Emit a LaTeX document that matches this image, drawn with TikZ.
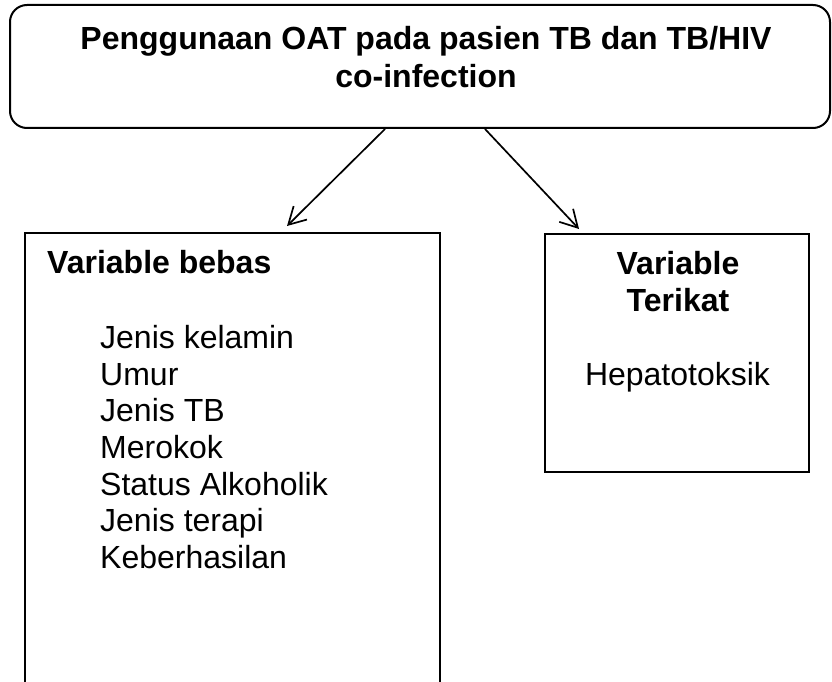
\documentclass[tikz,border=0pt]{standalone}
\usepackage{fontspec}
\setmainfont{Liberation Sans}
\usetikzlibrary{arrows.meta,positioning}

\begin{document}
\begin{tikzpicture}[x=1pt,y=1pt]

\tikzset{
  titlebox/.style={draw=black, line width=2pt, rounded corners=17pt,
                  minimum width=820pt, minimum height=123pt, inner sep=0pt},
  varbox/.style={draw=black, line width=2pt, inner sep=0pt},
  titletext/.style={font=\fontsize{32}{37.5}\selectfont\bfseries, inner sep=0pt},
  headtext/.style={font=\fontsize{32}{36.7}\selectfont\bfseries, inner sep=0pt},
  bodytext/.style={font=\fontsize{32}{36.7}\selectfont, inner sep=0pt},
  flow/.style={black, line width=1.7pt,
                  -{Straight Barb[length=17pt, width=19pt, line width=1.7pt]}}
}

% Page and clip
\useasboundingbox (0,0) rectangle (832,-682);
\clip (0,0) rectangle (832,-682);

% Title
\node[titlebox] (title) at (420,-66.5) {};
\node[titletext, align=center, anchor=north] (titletxt) at (426,-26.5)
  {Penggunaan OAT pada pasien TB dan TB/HIV\\co-infection};

% Variable bebas
\node[varbox, minimum width=415pt, minimum height=480pt] (bebas) at (232.5,-473) {};
\node[headtext, anchor=base west] (bebashead) at (47,-273) {Variable bebas};
\node[bodytext, align=left, anchor=north west] (bebaslist) at (100,-325.1)
  {Jenis kelamin\\Umur\\Jenis TB\\Merokok\\Status Alkoholik\\Jenis terapi\\Keberhasilan};

% Variable terikat
\node[varbox, minimum width=264pt, minimum height=238pt] (terikat) at (677,-353) {};
\node[headtext, align=center, anchor=north] (terikathead) at (678,-251.1) {Variable\\Terikat};
\node[bodytext, anchor=base] (terikatitem) at (677.5,-385) {Hepatotoksik};

% Arrows
\coordinate (s1) at (title.south -| 385,0);
\coordinate (s2) at (title.south -| 485,0);
\coordinate (t1) at (287,-226);
\coordinate (t2) at (579,-229);
\draw[flow] (s1) -- (t1);
\draw[flow] (s2) -- (t2);

\end{tikzpicture}
\end{document}
